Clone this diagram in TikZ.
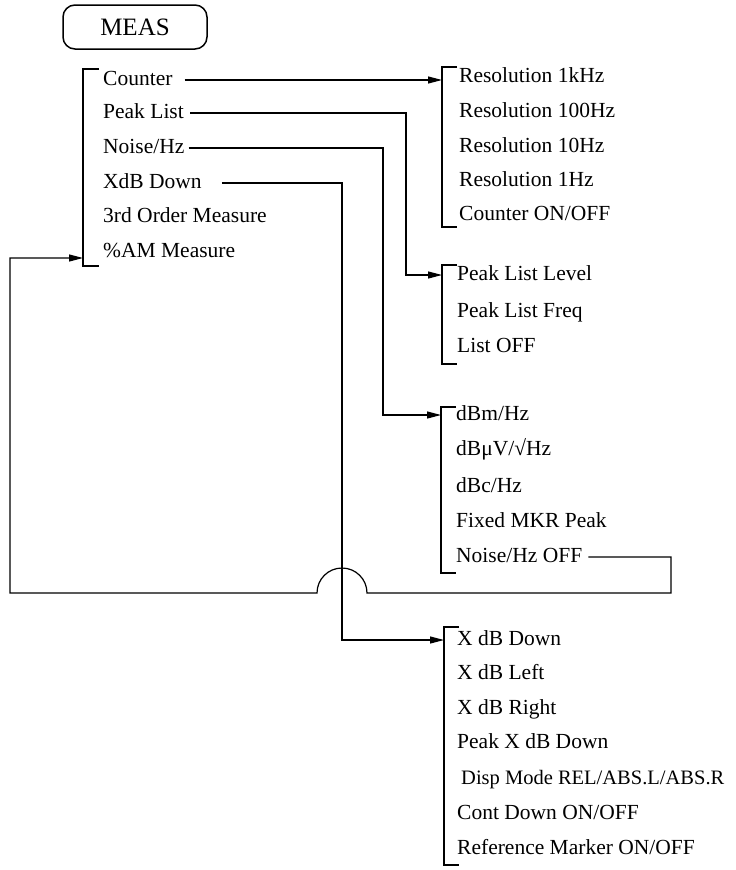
\documentclass[tikz,border=0pt]{standalone}
\usepackage{fontspec}
\setmainfont{Liberation Serif}
\usetikzlibrary{arrows.meta}

\tikzset{
  item/.style={anchor=west, inner sep=0pt, text height=14pt, text depth=4pt,
               font=\fontsize{21.5}{24}\selectfont},
  brace/.style={line width=1.5pt},
  link/.style={line width=1.2pt},
  arr/.style={link, -{Triangle[length=14pt,width=7pt]}},
}

\begin{document}
\begin{tikzpicture}[x=1pt, y=-1pt]
    \useasboundingbox (0,0) rectangle (736,870);

    % key
    \node[draw, line width=1.5pt, rounded corners=12pt, minimum width=144pt,
          minimum height=44pt, font=\fontsize{25}{28}\selectfont] (meas) at (135,27) {MEAS};

    % main menu
    \draw[brace] (99,69) -- (83,69) -- (83,266) -- (99,266);
    \coordinate (mainb) at (83,258);
    \foreach \nm/\y/\txt in {cnt/80/Counter, pkl/113/Peak List, noi/148/{Noise/Hz},
                             xdb/183/XdB Down, tom/217/3rd Order Measure, pam/252/\%AM Measure}
        \node[item] (\nm) at (103,\y) {\txt};

    % counter menu
    \draw[brace] (457,67) -- (442,67) -- (442,227) -- (457,227);
    \coordinate (resb) at (442,67);
    \foreach \nm/\y/\txt in {res1/77/Resolution 1kHz, res2/112/Resolution 100Hz,
                             res3/147/Resolution 10Hz, res4/181/Resolution 1Hz,
                             res5/215/{Counter ON/OFF}}
        \node[item] (\nm) at (459,\y) {\txt};

    % peak list menu
    \draw[brace] (457,265) -- (442,265) -- (442,364) -- (457,364);
    \coordinate (pkb) at (442,265);
    \foreach \nm/\y/\txt in {pk1/275/Peak List Level, pk2/312/Peak List Freq, pk3/347/List OFF}
        \node[item] (\nm) at (457,\y) {\txt};

    % noise menu
    \draw[brace] (456,407) -- (441,407) -- (441,573) -- (456,573);
    \coordinate (nzb) at (441,407);
    \foreach \nm/\y/\txt in {nz1/415/{dBm/Hz}, nz2/450/{dBμV/√Hz}, nz3/487/{dBc/Hz},
                             nz4/522/Fixed MKR Peak, nz5/557/{Noise/Hz OFF}}
        \node[item] (\nm) at (456,\y) {\txt};

    % x dB down menu
    \draw[brace] (459,627) -- (444,627) -- (444,865) -- (459,865);
    \coordinate (xdbb) at (444,627);
    \foreach \nm/\y/\txt in {xd1/640/X dB Down, xd2/674/X dB Left, xd3/709/X dB Right,
                             xd4/743/Peak X dB Down, xd6/814/{Cont Down ON/OFF},
                             xd7/849/{Reference Marker ON/OFF}}
        \node[item] (\nm) at (457,\y) {\txt};
    \node[item, font=\fontsize{20.5}{24}\selectfont] (xd5) at (461,779) {Disp Mode REL/ABS.L/ABS.R};

    % connectors
    \coordinate (pkturn) at (406,0);
    \coordinate (nzturn) at (383,0);
    \coordinate (xdturn) at (342,0);
    \coordinate (retR) at (671,593);
    \coordinate (retL) at (10,593);
    \coordinate (hop) at (342,593);

    \draw[arr] ([xshift=12pt]cnt.east) -- (cnt.east -| resb);
    \draw[arr] ([xshift=6pt]pkl.east) -| (pkturn |- pk1) -- (pk1 -| pkb);
    \draw[arr] ([xshift=4pt]noi.east) -| (nzturn |- nz1) -- (nz1 -| nzb);
    \draw[arr] ([xshift=20pt]xdb.east) -| (xdturn |- xd1) -- (xd1 -| xdbb);

    % back to main menu, hopping over
    \draw[arr] ([xshift=6pt]nz5.east) -| (retR) -- ([xshift=25pt]hop)
        arc[start angle=0, end angle=180, radius=25pt] -- (retL) |- (mainb);
\end{tikzpicture}
\end{document}
